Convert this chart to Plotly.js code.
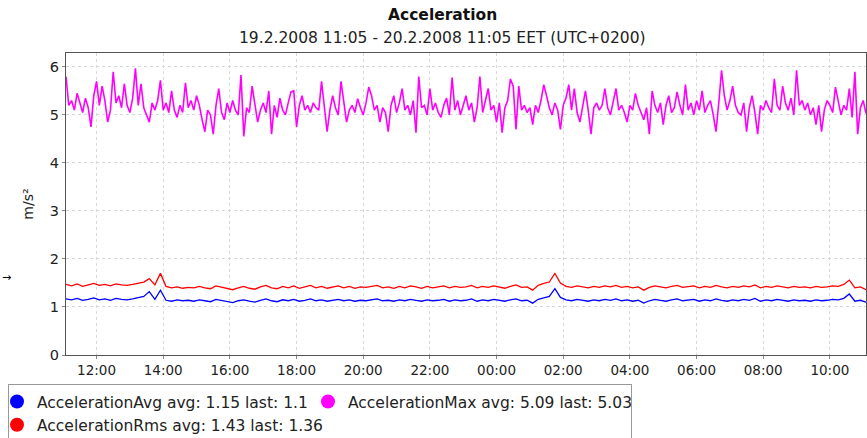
<!DOCTYPE html>
<html>
<head>
<meta charset="utf-8">
<script src="https://cdn.plot.ly/plotly-3.0.1.min.js"></script>
<style>html,body{margin:0;padding:0;background:#fff;}#chart{width:867px;height:438px;}</style>
</head>
<body>
<div id="chart"></div>
<script>
// Series sampled from 19.2.2008 11:05, step in minutes
const startLabel = "19.2.2008 11:05 - 20.2.2008 11:05 EET (UTC+0200)";
const maxStepMin = 5;
const avgStepMin = 10;

const accelerationMax = [
5.80,5.20,5.30,5.10,5.45,5.25,5.05,5.35,5.15,4.75,5.40,5.70,
5.20,5.60,5.30,4.85,5.10,5.90,5.25,5.40,5.15,5.65,5.20,5.05,
5.35,5.97,5.20,5.65,5.15,5.00,4.85,5.25,5.10,5.30,5.72,5.10,
5.25,5.05,5.50,5.10,4.95,5.20,5.05,5.67,5.15,5.30,5.10,5.40,
5.20,4.90,4.65,5.10,5.00,4.60,5.20,5.55,5.05,4.90,5.25,5.05,
5.30,5.10,5.00,5.83,4.55,5.15,5.05,5.60,5.20,4.85,5.10,5.25,
5.05,5.50,4.60,5.20,4.95,5.35,5.10,5.00,5.25,5.48,5.50,4.75,
5.20,5.40,5.10,5.20,5.05,5.25,5.15,5.10,5.70,5.20,4.65,5.10,
5.40,5.15,5.00,5.70,5.30,4.85,5.10,5.20,5.05,5.34,5.15,5.00,
5.25,5.58,5.40,5.10,5.20,4.85,5.15,5.05,4.65,5.20,5.40,5.05,
5.25,5.55,5.10,5.20,5.00,5.30,4.63,5.80,5.15,5.20,5.00,5.55,
5.10,5.25,5.05,4.95,5.20,5.35,5.00,5.78,5.10,5.30,5.00,5.20,
5.40,5.10,5.25,4.85,5.15,5.80,5.05,5.30,5.55,5.10,5.20,4.85,
5.25,4.63,5.15,5.30,5.75,5.60,4.70,5.60,5.10,5.20,5.05,5.15,
4.80,5.20,5.05,5.30,5.63,5.40,5.15,5.00,5.25,5.10,4.70,5.20,
5.35,5.63,5.10,5.55,5.05,4.85,5.20,5.50,5.10,4.60,5.15,5.25,
5.10,5.20,5.55,5.15,5.00,5.25,5.55,5.10,5.20,5.05,4.85,5.20,
5.10,5.45,5.20,5.05,4.90,5.15,4.60,5.50,5.20,5.05,5.25,4.80,
5.20,5.40,5.05,5.15,5.48,5.20,5.00,5.63,5.10,5.25,5.00,5.30,
5.10,5.50,5.05,5.20,5.30,5.00,4.65,5.25,5.93,5.40,5.10,5.30,
5.60,5.20,5.05,5.00,5.25,4.65,5.15,5.40,5.05,4.60,5.20,5.10,
5.30,5.15,5.05,5.75,5.20,5.10,5.60,5.25,5.10,5.35,5.00,5.93,
5.20,5.30,5.10,5.25,5.00,5.15,4.80,5.20,4.65,5.10,5.30,5.20,
5.05,5.58,5.25,5.00,5.20,5.10,5.55,4.95,5.90,4.60,5.15,5.30,5.03
];

const accelerationAvg = [
1.17,1.15,1.18,1.14,1.16,1.19,1.15,1.17,1.14,1.18,1.16,1.15,
1.17,1.19,1.22,1.32,1.16,1.35,1.14,1.12,1.15,1.13,1.14,1.12,
1.15,1.13,1.11,1.16,1.14,1.12,1.09,1.13,1.15,1.12,1.10,1.14,
1.17,1.13,1.11,1.15,1.13,1.16,1.12,1.14,1.17,1.13,1.15,1.12,
1.14,1.16,1.13,1.15,1.12,1.14,1.13,1.15,1.17,1.13,1.14,1.12,
1.15,1.13,1.16,1.14,1.12,1.15,1.13,1.14,1.16,1.12,1.15,1.13,
1.14,1.17,1.12,1.15,1.13,1.16,1.14,1.12,1.15,1.17,1.13,1.14,
1.08,1.16,1.19,1.22,1.38,1.20,1.15,1.13,1.16,1.14,1.12,1.15,
1.13,1.16,1.14,1.17,1.13,1.15,1.12,1.14,1.08,1.13,1.16,1.14,
1.12,1.15,1.17,1.13,1.14,1.16,1.12,1.15,1.13,1.17,1.14,1.12,
1.15,1.13,1.16,1.14,1.18,1.12,1.15,1.13,1.16,1.14,1.12,1.15,
1.13,1.14,1.12,1.15,1.13,1.14,1.16,1.15,1.18,1.27,1.12,1.14,1.10
];

const accelerationRms = [
1.47,1.44,1.48,1.43,1.46,1.49,1.45,1.47,1.44,1.48,1.46,1.45,
1.47,1.49,1.52,1.59,1.46,1.70,1.43,1.40,1.42,1.39,1.41,1.40,
1.43,1.40,1.38,1.44,1.41,1.39,1.36,1.40,1.43,1.39,1.37,1.42,
1.45,1.40,1.38,1.43,1.40,1.44,1.39,1.42,1.45,1.40,1.43,1.39,
1.41,1.44,1.40,1.43,1.39,1.42,1.41,1.43,1.45,1.40,1.42,1.39,
1.43,1.40,1.44,1.42,1.39,1.43,1.40,1.42,1.44,1.40,1.43,1.41,
1.42,1.45,1.40,1.43,1.41,1.44,1.42,1.39,1.43,1.46,1.41,1.42,
1.35,1.45,1.49,1.52,1.70,1.50,1.43,1.41,1.44,1.42,1.40,1.43,
1.41,1.44,1.42,1.45,1.41,1.43,1.40,1.42,1.35,1.41,1.44,1.42,
1.40,1.43,1.45,1.41,1.42,1.44,1.40,1.43,1.41,1.45,1.42,1.40,
1.43,1.41,1.44,1.42,1.46,1.40,1.43,1.41,1.44,1.42,1.40,1.43,
1.41,1.42,1.40,1.43,1.41,1.42,1.44,1.43,1.47,1.56,1.40,1.42,1.36
];

const seriesNames = [
  "AccelerationAvg avg: 1.15 last: 1.1",
  "AccelerationMax avg: 5.09 last: 5.03",
  "AccelerationRms avg: 1.43 last: 1.36"
];
const yTickVals = [0,1,2,3,4,5,6];

function pad(n){return (n<10?"0":"")+n;}
function ts(min){
  const total = 11*60+5+min;
  const day = 19 + Math.floor(total/1440);
  const m = total % 1440;
  return "2008-02-" + day + " " + pad(Math.floor(m/60)) + ":" + pad(m%60);
}
const xMax = accelerationMax.map((_, i) => ts(i*maxStepMin));
const xAvg = accelerationAvg.map((_, i) => ts(i*avgStepMin));
const xRms = accelerationRms.map((_, i) => ts(i*avgStepMin));

const colors = ["#0000ff", "#ff00ff", "#ff0000"];
const font = "DejaVu Sans, sans-serif";

const traces = [
  {x: xMax, y: accelerationMax, mode: "lines", line: {color: colors[1], width: 1.6}, showlegend: false, hoverinfo: "skip"},
  {x: xRms, y: accelerationRms, mode: "lines", line: {color: colors[2], width: 1.3}, showlegend: false, hoverinfo: "skip"},
  {x: xAvg, y: accelerationAvg, mode: "lines", line: {color: colors[0], width: 1.3}, showlegend: false, hoverinfo: "skip"}
];
// legend entries (circle symbols)
seriesNames.forEach((n, k) => {
  traces.push({x: [null], y: [null], mode: "markers", name: n,
    marker: {color: colors[k], size: 14, symbol: "circle"}, showlegend: true});
});

const layout = {
  width: 867, height: 438,
  margin: {l: 66, r: 1, t: 53, b: 83, pad: 0, autoexpand: false},
  paper_bgcolor: "#fff", plot_bgcolor: "#fff",
  font: {family: font, size: 13.5, color: "#222"},
  showlegend: true,
  xaxis: {
    type: "date",
    range: ["2008-02-19 11:05", "2008-02-20 11:05"],
    tick0: "2008-02-19 12:00", dtick: 2*3600*1000,
    tickformat: "%H:%M",
    showgrid: true, gridcolor: "#d8d8d8", griddash: "dot", gridwidth: 1,
    showline: true, linecolor: "#555", linewidth: 1, mirror: true,
    ticks: "outside", ticklen: 3, tickcolor: "#888",
    tickfont: {family: font, size: 13.5, color: "#222"},
    zeroline: false, fixedrange: true
  },
  yaxis: {
    range: [0, 6.29],
    tickvals: yTickVals,
    showgrid: true, gridcolor: "#d8d8d8", griddash: "dot", gridwidth: 1,
    showline: true, linecolor: "#555", linewidth: 1, mirror: true,
    ticks: "outside", ticklen: 3, tickcolor: "#888",
    tickfont: {family: font, size: 14.5, color: "#222"},
    title: {text: "m/s²", font: {family: font, size: 14, color: "#222"}, standoff: 12},
    zeroline: false, fixedrange: true
  },
  legend: {
    orientation: "h",
    x: -0.0725, xanchor: "left", xref: "paper",
    y: -0.096, yanchor: "top", yref: "paper",
    bordercolor: "#999", borderwidth: 1, bgcolor: "#fff",
    font: {family: font, size: 15.5, color: "#222"},
    entrywidth: 278, entrywidthmode: "pixels",
    indentation: -12,
    itemwidth: 30, tracegroupgap: 0
  },
  annotations: [
    {text: "<b>Acceleration</b>", xref: "paper", yref: "paper", x: 0.471, y: 1.126,
     xanchor: "center", yanchor: "middle", showarrow: false,
     font: {family: font, size: 15.5, color: "#111"}},
    {text: startLabel, xref: "paper", yref: "paper", x: 0.471, y: 1.0497,
     xanchor: "center", yanchor: "middle", showarrow: false,
     font: {family: font, size: 15.5, color: "#222"}},
    {text: "→", xref: "paper", yref: "paper", x: -0.074, y: 0.255,
     xanchor: "center", yanchor: "middle", showarrow: false,
     font: {family: font, size: 11, color: "#000"}}
  ]
};

Plotly.newPlot("chart", traces, layout, {displayModeBar: false, staticPlot: true});
</script>
</body>
</html>
